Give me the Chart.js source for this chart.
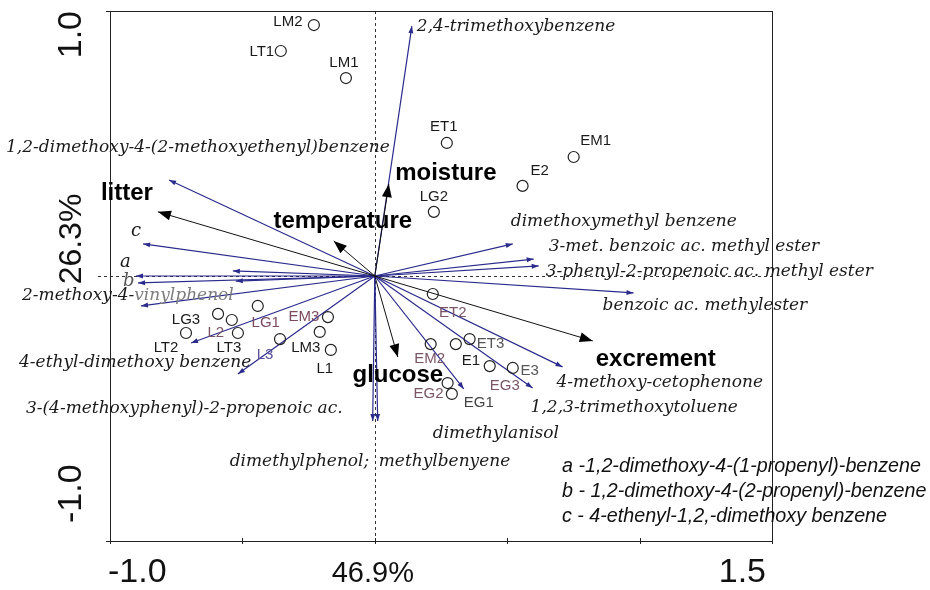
<!DOCTYPE html>
<html>
<head>
<meta charset="utf-8">
<script src="https://cdn.jsdelivr.net/npm/chart.js@4.4.1/dist/chart.umd.min.js"></script>
<style>
  html, body { margin: 0; padding: 0; background: #fff; }
</style>
</head>
<body>
<canvas id="biplot" width="930" height="590"></canvas>
<script>
// Samples (circles)
var sampleNames = ['LM2', 'LT1', 'LM1', 'ET1', 'EM1', 'E2', 'LG2', 'ET2', 'LG3', 'L2', 'LT2', 'LT3',
    'LG1', 'L3', 'EM3', 'LM3', 'L1', 'EM2', 'E1', 'ET3', 'EG3', 'E3', 'EG2', 'EG1'];
var sampleX = [-0.230, -0.355, -0.109, 0.272, 0.751, 0.558, 0.223, 0.219, -0.592, -0.540, -0.713, -0.517,
    -0.442, -0.358, -0.177, -0.208, -0.166, 0.211, 0.306, 0.358, 0.434, 0.521, 0.275, 0.291];
var sampleY = [0.947, 0.849, 0.747, 0.502, 0.449, 0.340, 0.242, -0.068, -0.143, -0.166, -0.215, -0.215,
    -0.113, -0.238, -0.155, -0.211, -0.279, -0.257, -0.257, -0.238, -0.340, -0.347, -0.404, -0.445];

// Species (blue arrows)
var speciesNames = ['2,4-trimethoxybenzene', '1,2-dimethoxy-4-(2-methoxyethenyl)benzene', 'c', 'a', 'b', '', '',
    '2-methoxy-4-vinylphenol', '4-ethyl-dimethoxy benzene', '3-(4-methoxyphenyl)-2-propenoic ac.',
    'dimethylphenol;', 'methylbenyene', 'dimethylanisol', '1,2,3-trimethoxytoluene', '4-methoxy-cetophenone',
    'benzoic ac. methylester', '3-phenyl-2-propenoic ac. methyl ester', '3-met. benzoic ac. methyl ester',
    'dimethoxymethyl benzene'];
var speciesX = [0.140, -0.777, -0.875, -0.902, -0.894, -0.536, -0.525, -0.883, -0.694, -0.517,
    -0.008, 0.011, 0.336, 0.596, 0.709, 0.977, 0.619, 0.600, 0.521];
var speciesY = [0.943, 0.362, 0.121, 0.000, -0.026, 0.019, -0.019, -0.113, -0.253, -0.370,
    -0.547, -0.547, -0.426, -0.423, -0.343, -0.064, 0.038, 0.064, 0.121];

// Environmental variables (black arrows)
var envNames = ['litter', 'temperature', 'moisture', 'glucose', 'excrement'];
var envX = [-0.819, -0.155, 0.053, 0.087, 0.823];
var envY = [0.242, 0.132, 0.347, -0.306, -0.245];

// Axis labels and notes
var xTickLabels = ['-1.0', '46.9%', '1.5'];
var yTickLabels = ['1.0', '26.3%', '-1.0'];
var legendNotes = ['a -1,2-dimethoxy-4-(1-propenyl)-benzene', 'b - 1,2-dimethoxy-4-(2-propenyl)-benzene',
    'c - 4-ethenyl-1,2,-dimethoxy benzene'];

// label placement (pixel offsets from the point / arrow tip)
var sampleLabelOffset = {
    LM2: [-26, -3], LT1: [-19, 1], LM1: [-2, -15], ET1: [-3, -16], EM1: [22, -16], E2: [17, -15],
    LG2: [0, -15], ET2: [20, 19], LG3: [-32, 6], L2: [-16, 13], LT2: [-20, 15], LT3: [-9, 15],
    LG1: [8, 17], L3: [-15, 16], EM3: [-24, 0], LM3: [-14, 16], L1: [-6, 19], EM2: [-1, 15],
    E1: [15, 17], ET3: [21, 5], EG3: [15, 20], E3: [17, 3], EG2: [-19, 11], EG1: [27, 9]
};
var sampleLabelColor = {
    ET2: '#7a5566', L2: '#7a5566', LG1: '#7a4a5e', EM3: '#7a4a5e', EM2: '#7a5566', EG2: '#7a5566',
    EG3: '#7a5566', L3: '#5a4f9a', E3: '#555', ET3: '#555', EG1: '#444'
};
var speciesLabelOffset = [[5, 0], [-163, -32], [-12, -13], [-16, -14], [-15, -2], null, null,
    [-119, -10], [-172, 20], [-212, 35], [-143, 41], [1, 41], [-31, 45], [-2, 19], [-6, 16],
    [-31, 13], [7, 6], [15, -12], [-2, -22]];
var envLabelOffset = [[-31, -18], [9, -20], [57, -11], [0, 18], [63, 18]];

var BLUE = '#2b2b8c';

var datasets = [{
    label: 'samples',
    data: sampleX.map(function (x, i) { return { x: x, y: sampleY[i] }; }),
    pointRadius: 5.5,
    pointBorderWidth: 1.2,
    pointBorderColor: '#222',
    pointBackgroundColor: 'rgba(0,0,0,0)',
    showLine: false
}];
envX.forEach(function (x, i) {
    datasets.push({
        label: envNames[i], kind: 'env',
        data: [{ x: 0, y: 0 }, { x: x, y: envY[i] }],
        showLine: true, borderColor: '#111', borderWidth: 1, pointRadius: 0
    });
});
speciesX.forEach(function (x, i) {
    datasets.push({
        label: speciesNames[i], kind: 'species',
        data: [{ x: 0, y: 0 }, { x: x, y: speciesY[i] }],
        showLine: true, borderColor: BLUE, borderWidth: 1.2, pointRadius: 0
    });
});

function arrowHead(ctx, x0, y0, x1, y1, len, half, color) {
    var ang = Math.atan2(y1 - y0, x1 - x0);
    ctx.fillStyle = color;
    ctx.beginPath();
    ctx.moveTo(x1, y1);
    ctx.lineTo(x1 - len * Math.cos(ang) + half * Math.sin(ang), y1 - len * Math.sin(ang) - half * Math.cos(ang));
    ctx.lineTo(x1 - len * Math.cos(ang) - half * Math.sin(ang), y1 - len * Math.sin(ang) + half * Math.cos(ang));
    ctx.closePath();
    ctx.fill();
}

var biplotDecor = {
    id: 'biplotDecor',
    beforeDatasetsDraw: function (chart) {
        var ctx = chart.ctx, a = chart.chartArea;
        var x0 = chart.scales.x.getPixelForValue(0), y0 = chart.scales.y.getPixelForValue(0);
        ctx.save();
        ctx.strokeStyle = '#333';
        ctx.lineWidth = 1;
        ctx.setLineDash([3, 3]);
        ctx.beginPath();
        ctx.moveTo(Math.round(x0) + 0.5, a.top);
        ctx.lineTo(Math.round(x0) + 0.5, a.bottom);
        ctx.moveTo(a.left - 12, Math.round(y0) + 0.5);
        ctx.lineTo(a.right, Math.round(y0) + 0.5);
        ctx.stroke();
        ctx.setLineDash([]);
        // frame
        ctx.strokeStyle = '#222';
        ctx.strokeRect(Math.round(a.left) + 0.5, Math.round(a.top) + 0.5, Math.round(a.right - a.left), Math.round(a.bottom - a.top));
        // tick marks
        ctx.beginPath();
        [-1, -0.5, 0, 0.5, 1, 1.5].forEach(function (v) {
            var tx = Math.round(chart.scales.x.getPixelForValue(v)) + 0.5;
            ctx.moveTo(tx, a.bottom - 3);
            ctx.lineTo(tx, a.bottom + 3);
        });
        [-1, 1].forEach(function (v) {
            var ty = Math.round(chart.scales.y.getPixelForValue(v)) + 0.5;
            ctx.moveTo(a.left - 4, ty);
            ctx.lineTo(a.left + 1, ty);
        });
        ctx.stroke();
        ctx.restore();
    },
    afterDatasetsDraw: function (chart) {
        var ctx = chart.ctx, a = chart.chartArea;
        ctx.save();
        // arrow heads
        chart.data.datasets.forEach(function (ds, i) {
            if (!ds.kind) return;
            var m = chart.getDatasetMeta(i).data;
            if (ds.kind === 'env') arrowHead(ctx, m[0].x, m[0].y, m[1].x, m[1].y, 13, 5, '#000');
            else arrowHead(ctx, m[0].x, m[0].y, m[1].x, m[1].y, 7, 2.5, BLUE);
        });

        // sample labels
        var pts = chart.getDatasetMeta(0).data;
        ctx.font = '15px "Liberation Sans", Arial, sans-serif';
        ctx.textAlign = 'center';
        ctx.textBaseline = 'middle';
        sampleNames.forEach(function (n, i) {
            var o = sampleLabelOffset[n];
            ctx.fillStyle = sampleLabelColor[n] || '#1a1a1a';
            ctx.fillText(n, pts[i].x + o[0], pts[i].y + o[1]);
        });

        // species labels
        ctx.textAlign = 'left';
        chart.data.datasets.forEach(function (ds, i) {
            if (ds.kind !== 'species' || !ds.label) return;
            var k = speciesNames.indexOf(ds.label);
            var o = speciesLabelOffset[k];
            var tip = chart.getDatasetMeta(i).data[1];
            var lx = tip.x + o[0], ly = tip.y + o[1];
            var short = ds.label.length === 1;
            ctx.font = 'italic ' + (short ? 18 : 17) + 'px "DejaVu Serif", serif';
            ctx.fillStyle = ds.label === 'b' ? '#555' : '#1a1a1a';
            if (ds.label === '2-methoxy-4-vinylphenol') {
                ctx.fillText('2-methoxy-4-', lx, ly);
                var w = ctx.measureText('2-methoxy-4-').width;
                ctx.fillStyle = '#7d7d7d';
                ctx.fillText('vinylphenol', lx + w, ly);
            } else {
                ctx.fillText(ds.label, lx, ly);
            }
        });

        // environmental labels
        ctx.textAlign = 'center';
        ctx.font = 'bold 24px "Liberation Sans", Arial, sans-serif';
        ctx.fillStyle = '#000';
        chart.data.datasets.forEach(function (ds, i) {
            if (ds.kind !== 'env') return;
            var k = envNames.indexOf(ds.label);
            var tip = chart.getDatasetMeta(i).data[1];
            ctx.fillText(ds.label, tip.x + envLabelOffset[k][0], tip.y + envLabelOffset[k][1]);
        });

        // notes for a, b, c
        ctx.textAlign = 'left';
        ctx.font = 'italic 19.7px "Liberation Sans", Arial, sans-serif';
        ctx.fillStyle = '#111';
        legendNotes.forEach(function (t, i) {
            ctx.fillText(t, a.right - 210, a.bottom - 74 + i * 25);
        });

        // axis labels
        ctx.fillStyle = '#111';
        ctx.textBaseline = 'middle';
        var sx = chart.scales.x;
        ctx.font = '34px "Liberation Sans", Arial, sans-serif';
        ctx.textAlign = 'left';
        ctx.fillText(xTickLabels[0], a.left - 2, a.bottom + 32);
        ctx.textAlign = 'right';
        ctx.fillText(xTickLabels[2], a.right - 6, a.bottom + 32);
        ctx.font = '29px "Liberation Sans", Arial, sans-serif';
        ctx.textAlign = 'center';
        ctx.fillText(xTickLabels[1], sx.getPixelForValue(0) - 2, a.bottom + 33);

        ctx.translate(a.left - 38, 0);
        ctx.rotate(-Math.PI / 2);
        ctx.font = '34px "Liberation Sans", Arial, sans-serif';
        ctx.textAlign = 'right';
        ctx.fillText(yTickLabels[0], -a.top, 0);
        ctx.textAlign = 'left';
        ctx.fillText(yTickLabels[2], -(a.bottom - 18), 0);
        ctx.font = '32px "Liberation Sans", Arial, sans-serif';
        ctx.textAlign = 'center';
        ctx.fillText(yTickLabels[1], -239, 0);
        ctx.restore();
    }
};

new Chart(document.getElementById('biplot'), {
    type: 'scatter',
    data: { datasets: datasets },
    options: {
        responsive: false,
        animation: false,
        layout: { padding: { left: 110, top: 11, right: 158, bottom: 49 } },
        scales: {
            x: { display: false, min: -1.0, max: 1.5 },
            y: { display: false, min: -1.0, max: 1.0 }
        },
        plugins: { legend: { display: false }, tooltip: { enabled: false } },
        elements: { line: { tension: 0 } }
    },
    plugins: [biplotDecor]
});
</script>
</body>
</html>
